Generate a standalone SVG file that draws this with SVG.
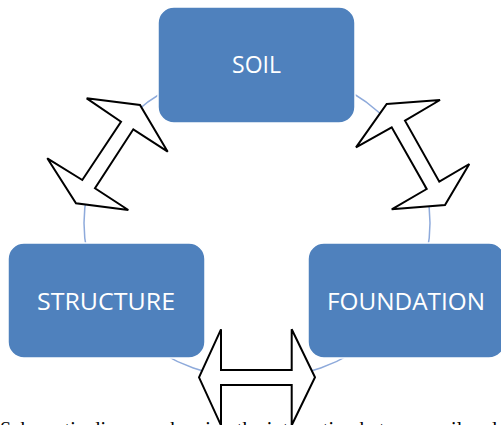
<svg xmlns="http://www.w3.org/2000/svg" width="501" height="425" viewBox="0 0 501 425">
  <style>
    .box { fill: #4F81BD; stroke: #ffffff; stroke-width: 1.5; }
    .lbl { fill: #ffffff; font-family: "Open Sans", "Noto Sans", "Liberation Sans", sans-serif; font-size: 23px; text-anchor: middle; }
    .arrow { fill: #ffffff; stroke: #000000; stroke-width: 2; stroke-linejoin: miter; }
    .cycle { fill: none; stroke: #8EAADB; stroke-width: 1.5; }
    .caption { fill: #000000; font-family: "Liberation Serif", "Times New Roman", serif; font-size: 20px; }
  </style>
  <rect width="501" height="425" fill="#ffffff"/>
  <g id="cycle-ring">
    <ellipse class="cycle" cx="257" cy="223" rx="173" ry="156"/>
  </g>
  <g id="node-soil">
    <rect class="box" x="158" y="7" width="197" height="116" rx="16" ry="16"/>
    <text class="lbl" x="256.5" y="73">SOIL</text>
  </g>
  <g id="node-structure">
    <rect class="box" x="8" y="243" width="197" height="115" rx="16" ry="16"/>
    <text class="lbl" x="106" y="310" textLength="138" lengthAdjust="spacingAndGlyphs">STRUCTURE</text>
  </g>
  <g id="node-foundation">
    <rect class="box" x="308" y="243" width="197" height="115" rx="16" ry="16"/>
    <text class="lbl" x="406" y="310" textLength="158" lengthAdjust="spacingAndGlyphs">FOUNDATION</text>
  </g>
  <g id="connectors">
    <polygon class="arrow" points="86.7,98.3 140,105 167.7,151.7 133.3,129.3 95,188.3 128.3,210 76,203.3 47.3,158.3 82.3,180 121,121.7"/>
    <polygon class="arrow" points="386.7,104 440,100 405,120.7 439.3,181.7 469.3,164 445,205 391.7,209.3 426.7,189 391.7,127.3 356,147.3"/>
    <polygon class="arrow" points="199,377.3 221,329.3 221,370 291.7,370 291.7,329.3 315,377.3 291.7,425.3 291.7,385 221,385 221,425.3"/>
  </g>
  <text class="caption" x="0" y="435.5" textLength="497" lengthAdjust="spacing">Schematic diagram showing the interaction between soil and</text>
</svg>
